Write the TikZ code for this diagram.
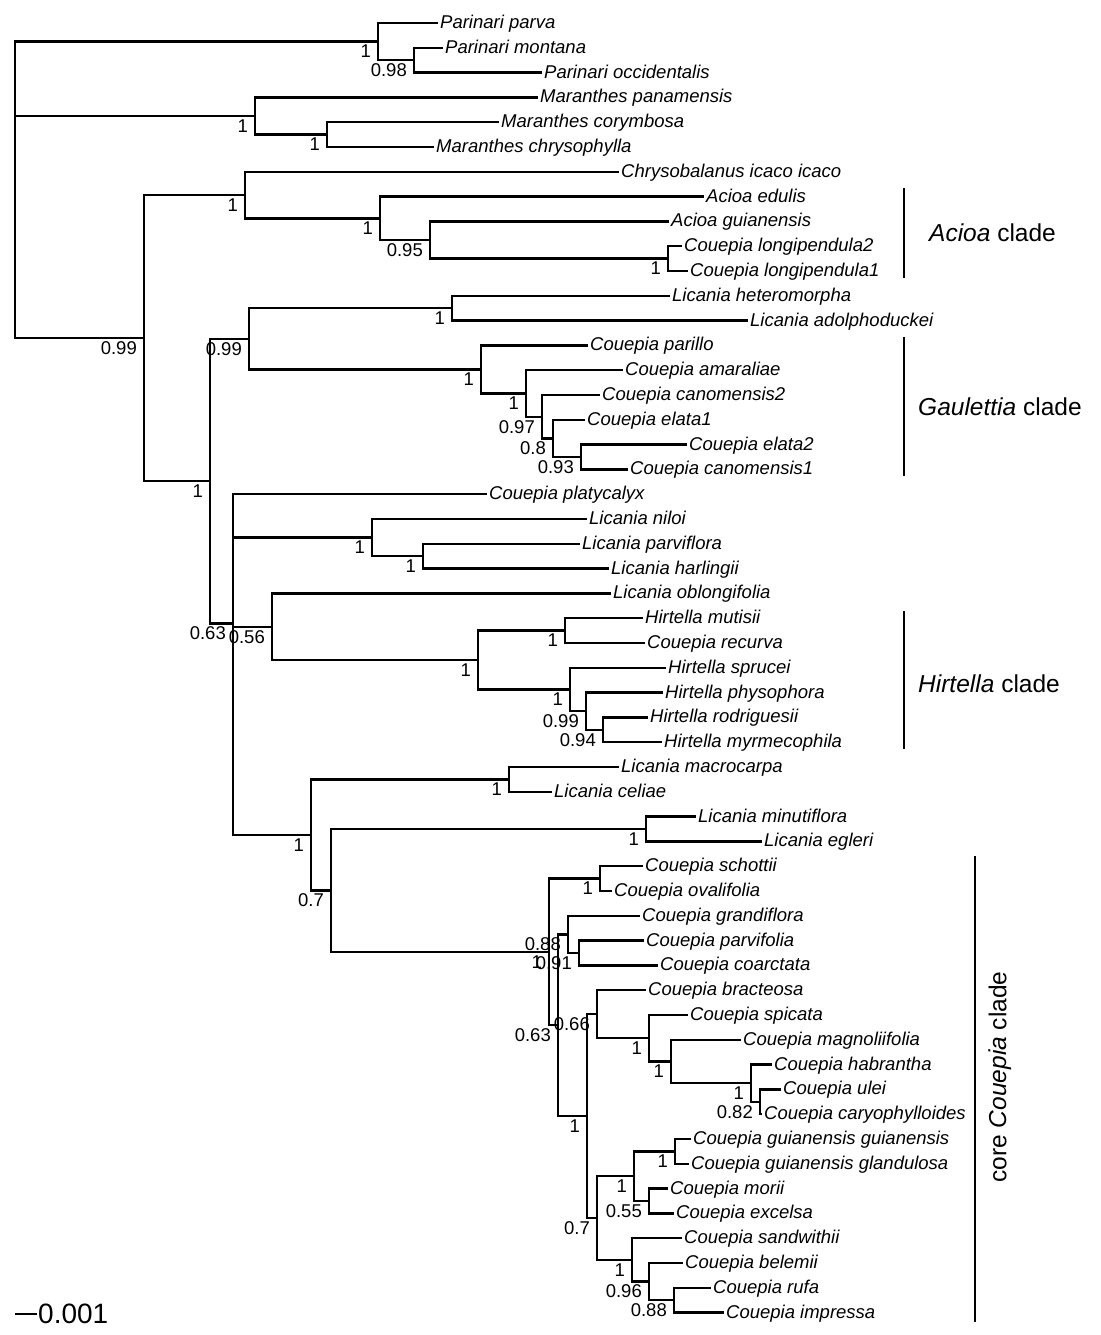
\documentclass[tikz,border=0pt]{standalone}
\usepackage{fontspec}
\setmainfont{Liberation Sans}

\begin{document}
\begin{tikzpicture}[x=1pt,y=-24.8pt,line width=2.4pt,
  tip/.style={anchor=west,inner xsep=1pt,inner ysep=0pt,
    text height=13.9pt,text depth=3.1pt,
    font=\fontsize{18.5}{20}\selectfont\itshape},
  supp/.style={anchor=east,inner sep=0pt,xshift=-6pt,yshift=-10pt,
    font=\fontsize{18.5}{20}\selectfont},
  clade/.style={inner sep=0pt,font=\fontsize{24.5}{28}\selectfont},
  bar/.style={line width=2.6pt}]
\useasboundingbox (0,0.0726) rectangle (1100,53.903);

% tips, top to bottom (x = end of branch)
\foreach \x/\name [count=\k] in {
  438/Parinari parva, 443/Parinari montana, 542/Parinari occidentalis,
  538/Maranthes panamensis, 499/Maranthes corymbosa, 434/Maranthes chrysophylla,
  619/Chrysobalanus icaco icaco, 704/Acioa edulis, 669/Acioa guianensis,
  682/Couepia longipendula2, 688/Couepia longipendula1,
  670/Licania heteromorpha, 748/Licania adolphoduckei,
  588/Couepia parillo, 623/Couepia amaraliae, 600/Couepia canomensis2,
  585/Couepia elata1, 687/Couepia elata2, 628/Couepia canomensis1,
  487/Couepia platycalyx, 587/Licania niloi, 580/Licania parviflora,
  609/Licania harlingii, 611/Licania oblongifolia,
  643/Hirtella mutisii, 645/Couepia recurva, 666/Hirtella sprucei,
  663/Hirtella physophora, 648/Hirtella rodriguesii, 662/Hirtella myrmecophila,
  619/Licania macrocarpa, 552/Licania celiae, 696/Licania minutiflora,
  762/Licania egleri, 643/Couepia schottii, 612/Couepia ovalifolia,
  640/Couepia grandiflora, 644/Couepia parvifolia, 658/Couepia coarctata,
  646/Couepia bracteosa, 688/Couepia spicata, 741/Couepia magnoliifolia,
  772/Couepia habrantha, 781/Couepia ulei, 762/Couepia caryophylloides,
  691/Couepia guianensis guianensis, 689/Couepia guianensis glandulosa,
  668/Couepia morii, 674/Couepia excelsa, 682/Couepia sandwithii,
  683/Couepia belemii, 711/Couepia rufa, 724/Couepia impressa}
  \node[tip] (t\k) at (\x,\k) {\name};

% inner nodes: name/x/y/support
\coordinate (root) at (15,4.75);
\foreach \n/\x/\y/\s in {
  a/378/1.75/1, a2/414/2.5/0.98, b/255/4.75/1, b2/327/5.5/1,
  c/144/13.7044/0.99, d/245/7.9375/1, d2/380/8.875/1, d3/430/9.75/0.95,
  d4/668/10.5/1, e/210/19.4713/1,
  f/249/13.7344/0.99, f1/452/12.5/1, f2/481/14.9688/1, f3/526/15.9375/1,
  f4/542/16.875/0.97, f5/553/17.75/0.8, f6/581/18.5/0.93,
  g/233/25.2083/0.63, n/372/21.75/1, n2/423/22.5/1,
  h/272/25.3438/0.56, h2/478/26.6875/1, h3/565/25.5/1, h4/570/27.875/1,
  h5/586/28.75/0.99, h6/603/29.5/0.94,
  k/311/33.7393/1, k1/509/31.5/1, k2/331/35.9785/0.7, k3/646/33.5/1,
  q/549/38.4570/1, q1/600/35.5/1, qb/558/41.4141/0.63, q3/568/37.75/0.88,
  q3a/579/38.5/0.91, qc/587/45.0781/1, q5/597/40.9688/0.66,
  q7/649/41.9375/1, q10/671/42.875/1, q11/751/43.75/1, q12/760/44.5/0.82,
  q6/597/49.1875/0.7, q8/634/47.5/1, q13/675/46.5/1, q14/649/48.5/0.55,
  q9/632/50.875/1, q15/649/51.75/0.96, q16/674/52.5/0.88}{
  \coordinate (\n) at (\x,\y);
  \node[supp] (s\n) at (\n) {\s};
}

% branches: parent/child
\foreach \p/\c in {root/a, root/b, root/c,
  a/t1, a/a2, a2/t2, a2/t3, b/t4, b/b2, b2/t5, b2/t6,
  c/d, c/e, d/t7, d/d2, d2/t8, d2/d3, d3/t9, d3/d4, d4/t10, d4/t11,
  e/f, e/g, f/f1, f/f2, f1/t12, f1/t13, f2/t14, f2/f3, f3/t15, f3/f4,
  f4/t16, f4/f5, f5/t17, f5/f6, f6/t18, f6/t19,
  g/t20, g/n, g/h, g/k, n/t21, n/n2, n2/t22, n2/t23,
  h/t24, h/h2, h2/h3, h2/h4, h3/t25, h3/t26, h4/t27, h4/h5,
  h5/t28, h5/h6, h6/t29, h6/t30,
  k/k1, k/k2, k1/t31, k1/t32, k2/k3, k2/q, k3/t33, k3/t34,
  q/q1, q/qb, q1/t35, q1/t36, qb/q3, qb/qc, q3/t37, q3/q3a, q3a/t38, q3a/t39,
  qc/q5, qc/q6, q5/t40, q5/q7, q7/t41, q7/q10, q10/t42, q10/q11,
  q11/t43, q11/q12, q12/t44, q12/t45,
  q6/q8, q6/q9, q8/q13, q8/q14, q13/t46, q13/t47, q14/t48, q14/t49,
  q9/t50, q9/q15, q15/t51, q15/q16, q16/t52, q16/t53}
  \draw (\p) |- (\c);

% clade bars
\coordinate (acioa-top) at (904,7.653);
\coordinate (acioa-bot) at (904,11.282);
\draw[bar] (acioa-top) -- (acioa-bot);
\node[clade,anchor=west] (acioa) at (928,9.468) {\textit{Acioa} clade};
\coordinate (gaul-top) at (904,13.66);
\coordinate (gaul-bot) at (904,19.27);
\draw[bar] (gaul-top) -- (gaul-bot);
\node[clade,anchor=west] (gaul) at (917,16.48) {\textit{Gaulettia} clade};
\coordinate (hirt-top) at (904,24.71);
\coordinate (hirt-bot) at (904,30.27);
\draw[bar] (hirt-top) -- (hirt-bot);
\node[clade,anchor=west] (hirt) at (917,27.65) {\textit{Hirtella} clade};
\coordinate (core-top) at (975,34.59);
\coordinate (core-bot) at (975,53.38);
\draw[bar] (core-top) -- (core-bot);
\node[clade,rotate=90] (core) at (1000,43.50) {core \textit{Couepia} clade};

% scale bar
\coordinate (sb0) at (15,53.06);
\coordinate (sb1) at (37,53.06);
\draw[line width=2pt] (sb0) -- (sb1);
\node[anchor=west,inner sep=0pt,font=\fontsize{28}{30}\selectfont] (sbl) at (sb1) {0.001};
\end{tikzpicture}
\end{document}
